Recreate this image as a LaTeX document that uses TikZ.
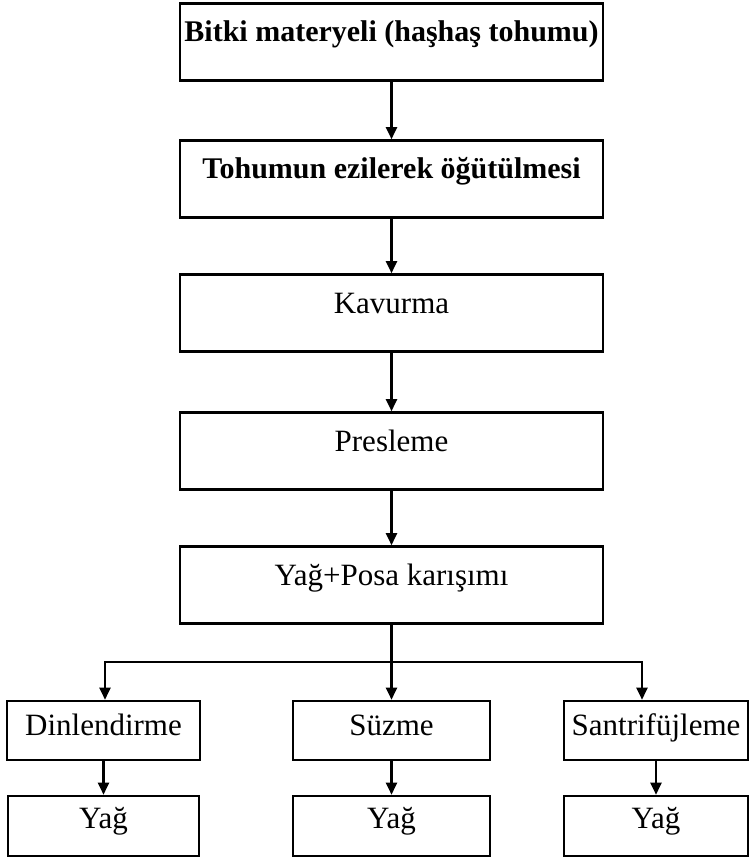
\documentclass[tikz,border=0pt]{standalone}
\usepackage{fontspec}
\setmainfont{Liberation Serif}
\usetikzlibrary{arrows.meta}
\begin{document}
\begin{tikzpicture}[x=1pt,y=-1pt,
  box/.style={draw, line width=2.6pt, rectangle, inner sep=0pt, font=\fontsize{31}{36}\selectfont},
  bigbox/.style={box, minimum width=423pt, minimum height=77pt, text height=20pt, text depth=20pt},
  midbox/.style={box, minimum height=59pt, text height=20pt, text depth=11pt},
  endbox/.style={box, minimum height=60pt, text height=20pt, text depth=15pt},
  conn/.style={line width=2.2pt},
  arr/.style={conn, -{Triangle[width=11pt,length=12pt]}}
]
\useasboundingbox (0,0) rectangle (750,858);

\node[bigbox, font=\fontsize{30}{36}\selectfont\bfseries] (b1) at (391.5,42) {Bitki materyeli (haşhaş tohumu)};
\node[bigbox, font=\fontsize{30}{36}\selectfont\bfseries] (b2) at (391.5,179) {Tohumun ezilerek öğütülmesi};
\node[bigbox] (b3) at (391.5,313) {Kavurma};
\node[bigbox] (b4) at (391.5,451) {Presleme};
\node[bigbox] (b5) at (391.5,585) {Yağ+Posa karışımı};

\node[midbox, minimum width=193pt] (s1) at (103.5,730.5) {Dinlendirme};
\node[midbox, minimum width=197pt] (s2) at (391.5,730.5) {Süzme};
\node[midbox, minimum width=184pt] (s3) at (656,730.5) {Santrifüjleme};

\node[endbox, minimum width=191pt] (y1) at (103.5,826) {Yağ};
\node[endbox, minimum width=197pt] (y2) at (391.5,826) {Yağ};
\node[endbox, minimum width=184pt] (y3) at (656,826) {Yağ};

\coordinate (j) at (391.5,662);
\coordinate (jl) at (105,662);
\coordinate (jr) at (642,662);

\draw[arr] (b1) -- (b2);
\draw[arr] (b2) -- (b3);
\draw[arr] (b3) -- (b4);
\draw[arr] (b4) -- (b5);
\draw[conn] (b5) -- (j);
\draw[conn, line cap=rect] (jl) -- (jr);
\draw[arr] (jl) -- (jl |- s1.north);
\draw[arr] (j) -- (s2);
\draw[arr] (jr) -- (jr |- s3.north);
\draw[arr] (s1) -- (y1);
\draw[arr] (s2) -- (y2);
\draw[arr] (s3) -- (y3);
\end{tikzpicture}
\end{document}
